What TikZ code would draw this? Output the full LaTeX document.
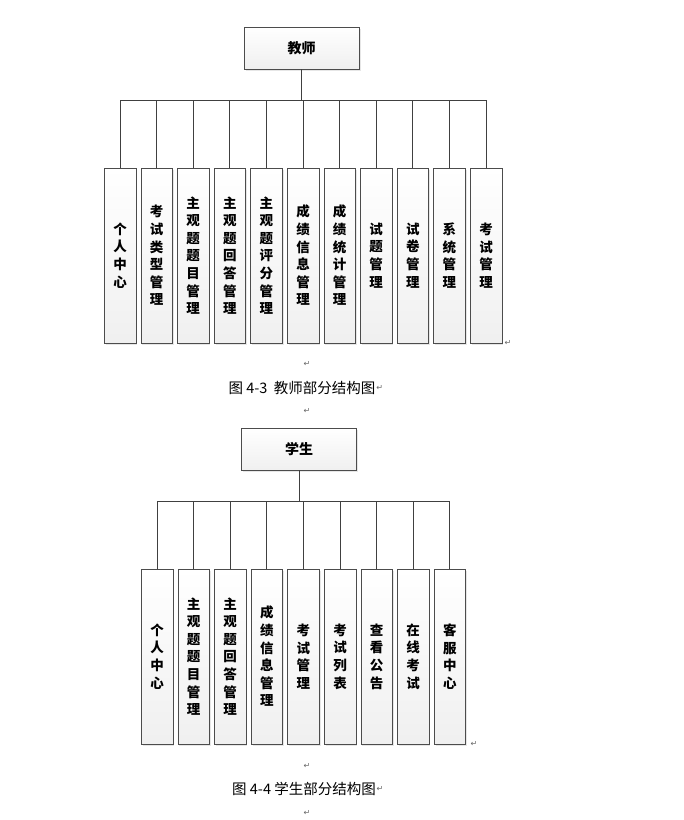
\documentclass[tikz,border=0pt]{standalone}
\usepackage{fontspec}
\newfontfamily\cjk{Noto Sans CJK SC}
\newfontfamily\symfont{DejaVu Sans}
\usetikzlibrary{positioning, shadows}

\begin{document}
\begin{tikzpicture}[
    x=1pt, y=-1pt,
    node distance=4.7pt, % gap between leaf boxes
    head/.style={rectangle, draw=black!70, top color=white, bottom color=black!6, minimum width=115pt, minimum height=42pt, font=\cjk\bfseries\fontsize{14}{16}\selectfont, drop shadow={shadow xshift=1.5pt, shadow yshift=-1.5pt, opacity=0.2}},
    leaf/.style={rectangle, draw=black!70, top color=white, bottom color=black!6, minimum width=31.5pt, minimum height=175pt, text width=16pt, align=center, inner sep=0pt, font=\cjk\bfseries\fontsize{13.5}{17.6}\selectfont, drop shadow={shadow xshift=1.5pt, shadow yshift=-1.5pt, opacity=0.2}},
    caption/.style={font=\cjk\fontsize{14.5}{17}\selectfont, inner sep=0pt},
    retmark/.style={font=\symfont\fontsize{8}{9}\selectfont, text=black!60, inner sep=0pt},
    link/.style={draw=black!75, line width=0.9pt}
]
\useasboundingbox (0,0) rectangle (684,820);

% Teacher part
\node[head] (teacher) at (301.5,48) {教师};
\node[leaf] (t1) at (120,255.5) {个\\人\\中\\心};
\node[leaf, right=of t1] (t2) {考\\试\\类\\型\\管\\理};
\node[leaf, right=of t2] (t3) {主\\观\\题\\题\\目\\管\\理};
\node[leaf, right=of t3] (t4) {主\\观\\题\\回\\答\\管\\理};
\node[leaf, right=of t4] (t5) {主\\观\\题\\评\\分\\管\\理};
\node[leaf, right=of t5] (t6) {成\\绩\\信\\息\\管\\理};
\node[leaf, right=of t6] (t7) {成\\绩\\统\\计\\管\\理};
\node[leaf, right=of t7] (t8) {试\\题\\管\\理};
\node[leaf, right=of t8] (t9) {试\\卷\\管\\理};
\node[leaf, right=of t9] (t10) {系\\统\\管\\理};
\node[leaf, right=of t10] (t11) {考\\试\\管\\理};
\coordinate (tbar) at (301.5,100);

\draw[link, line width=1.3pt] (teacher.south) -- (tbar);
\draw[link] (t1.north |- tbar) -- (t11.north |- tbar);
\foreach \i in {1,...,11}
    \draw[link] (t\i.north) -- (t\i.north |- tbar);

\node[retmark] (rt1) at (508,343) {↵};
\node[retmark] (rt2) at (307,364) {↵};
\node[caption] (cap1) at (302,388) {图 4-3\ \ 教师部分结构图};
\node[retmark, right=0.5pt of cap1] (rt3) {↵};
\node[retmark] (rt4) at (307,411) {↵};

% Student part
\node[head] (student) at (299,449) {学生};
\node[leaf] (s1) at (157,656.5) {个\\人\\中\\心};
\node[leaf, right=of s1] (s2) {主\\观\\题\\题\\目\\管\\理};
\node[leaf, right=of s2] (s3) {主\\观\\题\\回\\答\\管\\理};
\node[leaf, right=of s3] (s4) {成\\绩\\信\\息\\管\\理};
\node[leaf, right=of s4] (s5) {考\\试\\管\\理};
\node[leaf, right=of s5] (s6) {考\\试\\列\\表};
\node[leaf, right=of s6] (s7) {查\\看\\公\\告};
\node[leaf, right=of s7] (s8) {在\\线\\考\\试};
\node[leaf, right=of s8] (s9) {客\\服\\中\\心};
\coordinate (sbar) at (299,501);

\draw[link] (student.south) -- (sbar);
\draw[link] (s1.north |- sbar) -- (s9.north |- sbar);
\foreach \i in {1,...,9}
    \draw[link] (s\i.north) -- (s\i.north |- sbar);

\node[retmark] (rs1) at (474,744) {↵};
\node[retmark] (rs2) at (307,766) {↵};
\node[caption] (cap2) at (304,789) {图 4-4 学生部分结构图};
\node[retmark, right=0.5pt of cap2] (rs3) {↵};
\node[retmark] (rs4) at (307,813) {↵};

\end{tikzpicture}
\end{document}
